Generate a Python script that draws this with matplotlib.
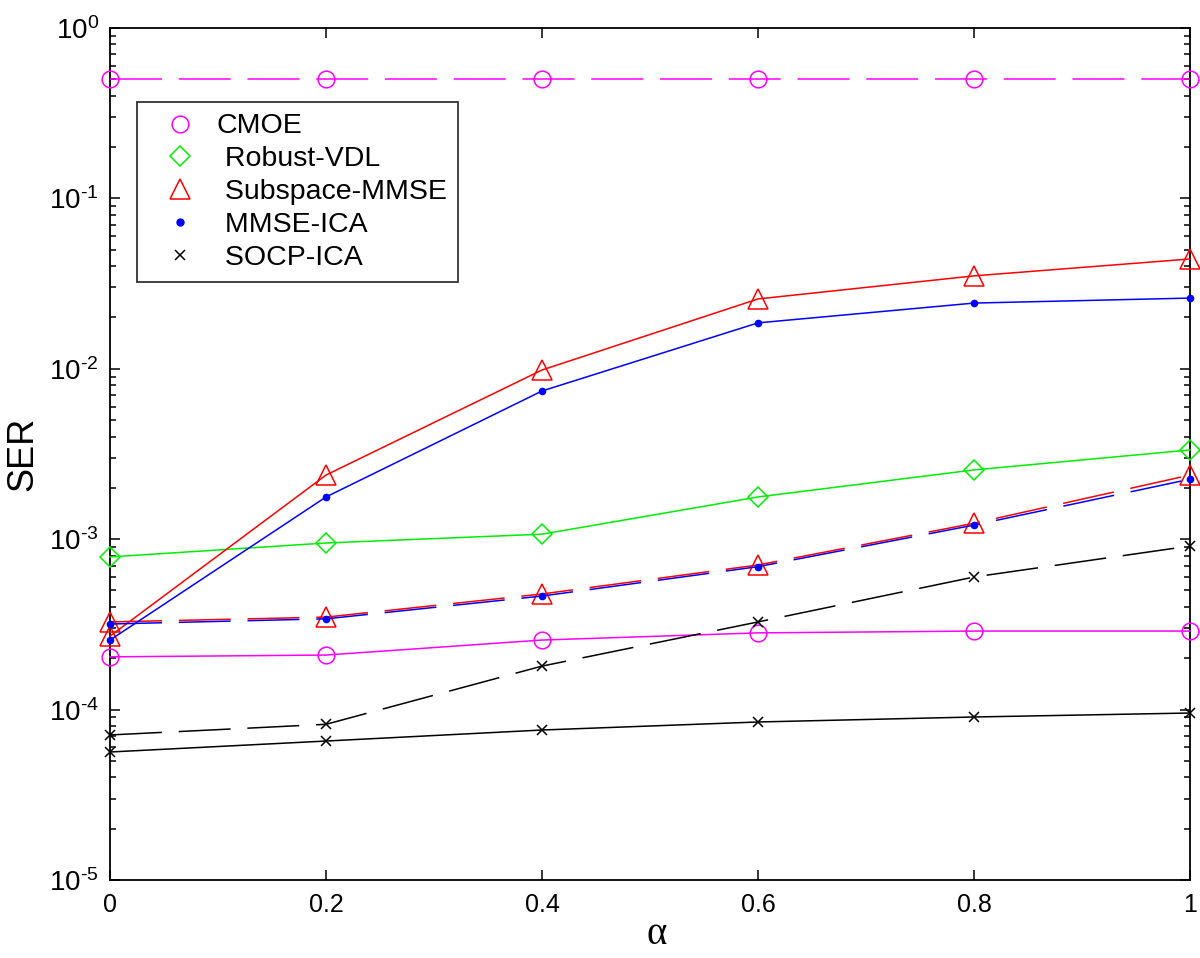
import matplotlib
matplotlib.use("Agg")
import matplotlib.pyplot as plt
from matplotlib.lines import Line2D
from matplotlib.ticker import LogLocator, FixedLocator, FuncFormatter
import math

plt.rcParams['font.family'] = ['Liberation Sans', 'DejaVu Sans']
plt.rcParams['mathtext.fontset'] = 'custom'
plt.rcParams['mathtext.rm'] = 'Liberation Sans'
plt.rcParams['mathtext.it'] = 'Liberation Sans:italic'
plt.rcParams['axes.unicode_minus'] = False

alpha = [0, 0.2, 0.4, 0.6, 0.8, 1.0]

cmoe_dashed = [0.5, 0.5, 0.5, 0.5, 0.5, 0.5]
cmoe_solid = [2.04e-4, 2.09e-4, 2.56e-4, 2.82e-4, 2.89e-4, 2.89e-4]
vdl_solid = [7.87e-4, 9.5e-4, 1.07e-3, 1.77e-3, 2.55e-3, 3.34e-3]
sub_solid = [2.70e-4, 2.38e-3, 9.84e-3, 2.57e-2, 3.51e-2, 4.41e-2]
mmse_solid = [2.56e-4, 1.77e-3, 7.41e-3, 1.86e-2, 2.43e-2, 2.60e-2]
sub_dashed = [3.27e-4, 3.49e-4, 4.77e-4, 7.06e-4, 1.24e-3, 2.38e-3]
mmse_dashed = [3.18e-4, 3.41e-4, 4.64e-4, 6.9e-4, 1.21e-3, 2.25e-3]
socp_dashed = [7.1e-5, 8.2e-5, 1.80e-4, 3.27e-4, 6.0e-4, 9.12e-4]
socp_solid = [5.64e-5, 6.54e-5, 7.59e-5, 8.46e-5, 9.05e-5, 9.55e-5]

legend_labels = ['CMOE', ' Robust-VDL', ' Subspace-MMSE', ' MMSE-ICA', ' SOCP-ICA']
x_ticks = [0, 0.2, 0.4, 0.6, 0.8, 1]
x_ticklabels = ['0', '0.2', '0.4', '0.6', '0.8', '1']

fig = plt.figure(figsize=(12, 9.58), dpi=100)
ax = fig.add_axes([0.0917, 0.0814, 0.9, 0.8894])

MAG = '#ff00ff'
GRN = '#00ee00'
RED = '#ff0000'
BLU = '#0000ff'
BLK = '#000000'
dash = (0, (34, 11))

ax.plot(alpha, cmoe_dashed, color=MAG, lw=1.1, linestyle=dash, marker='o', ms=12, mfc='none', mew=1.1, clip_on=False, zorder=3)
ax.plot(alpha, cmoe_solid, color=MAG, lw=1.1, marker='o', ms=12, mfc='none', mew=1.1, clip_on=False, zorder=3)
ax.plot(alpha, vdl_solid, color=GRN, lw=1.1, marker='D', ms=10, mfc='none', mew=1.1, clip_on=False, zorder=3)
ax.plot(alpha, sub_solid, color=RED, lw=1.1, marker='^', ms=14, mfc='none', mew=1.1, clip_on=False, zorder=3)
ax.plot(alpha, mmse_solid, color=BLU, lw=1.1, marker='o', ms=4.5, clip_on=False, zorder=4)
ax.plot(alpha, sub_dashed, color=RED, lw=1.1, linestyle=dash, marker='^', ms=14, mfc='none', mew=1.1, clip_on=False, zorder=3)
ax.plot(alpha, mmse_dashed, color=BLU, lw=1.1, linestyle=dash, marker='o', ms=4.5, clip_on=False, zorder=4)
ax.plot(alpha, socp_dashed, color=BLK, lw=1.1, linestyle=dash, marker='x', ms=7, mew=1.1, clip_on=False, zorder=3)
ax.plot(alpha, socp_solid, color=BLK, lw=1.1, marker='x', ms=7, mew=1.1, clip_on=False, zorder=3)

ax.set_yscale('log')
ax.set_xlim(0, 1)
ax.set_ylim(1e-5, 1)
ax.set_xticks(x_ticks)
ax.set_xticklabels(x_ticklabels, fontsize=18)
ax.xaxis.set_minor_locator(FixedLocator([]))
ax.yaxis.set_major_locator(LogLocator(base=10, numticks=10))
ax.yaxis.set_minor_locator(LogLocator(base=10, subs=range(2, 10), numticks=20))
ax.yaxis.set_major_formatter(FuncFormatter(
    lambda v, p: r'$\mathregular{10^{\text{%d}}}$' % round(math.log10(v))))
ax.tick_params(which='both', direction='in', top=True, right=True, width=1.1)
ax.tick_params(axis='x', which='major', length=7, pad=9)
ax.tick_params(axis='y', which='major', length=7, pad=8, labelsize=20)
ax.tick_params(which='minor', length=4.5)
for s in ax.spines.values():
    s.set_linewidth(1.3)

ax.set_xlabel('α', fontsize=28, family=['Liberation Serif', 'DejaVu Serif'], va='center')
ax.xaxis.set_label_coords(0.506, -0.064)
ax.set_ylabel('SER', fontsize=26, va='center')
ax.yaxis.set_label_coords(-0.081, 0.5)

handles = [
    Line2D([], [], color=MAG, marker='o', ms=12, mfc='none', mew=1.1, linestyle='none'),
    Line2D([], [], color=GRN, marker='D', ms=10, mfc='none', mew=1.1, linestyle='none'),
    Line2D([], [], color=RED, marker='^', ms=14, mfc='none', mew=1.1, linestyle='none'),
    Line2D([], [], color=BLU, marker='o', ms=5, linestyle='none'),
    Line2D([], [], color=BLK, marker='x', ms=7, mew=1.1, linestyle='none'),
]
leg = ax.legend(handles, legend_labels, loc='upper left', bbox_to_anchor=(0.0245, 0.913),
                fontsize=20.5, frameon=True, fancybox=False, edgecolor='black',
                borderpad=0.4, labelspacing=0.24, handlelength=2.25, handletextpad=0.16,
                borderaxespad=0)
leg.get_frame().set_linewidth(1.3)

fig.savefig('out.png', dpi=100)
